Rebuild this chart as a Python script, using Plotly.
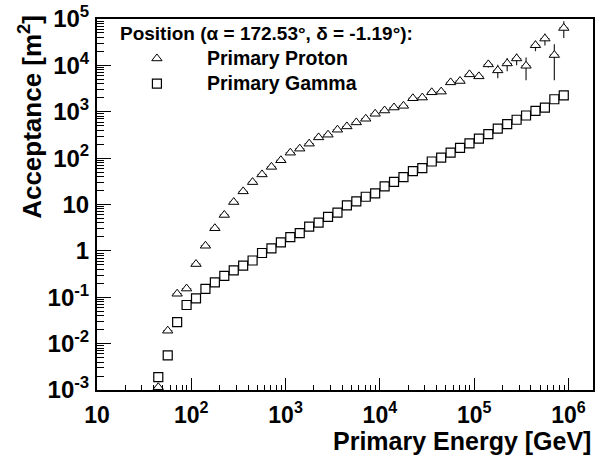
import numpy as np
import plotly.graph_objects as go

# bin centres in log10(E/GeV)
log_e = [1.65 + 0.1 * i for i in range(44)]
half_bin = 0.05

proton = [1.15e-3, 0.019, 0.119, 0.154, 0.52, 1.29, 3.08, 5.95, 11.3, 19.2,
          30.4, 44.5, 64.7, 90, 131, 160, 205, 280, 320, 410,
          483, 589, 706, 904, 1064, 1234, 1342, 1955, 2023, 2627,
          2715, 4300, 4600, 6400, 5800, 10500, 7800, 11000, 14100, 9800,
          27200, 37800, 16700, 64000]
proton_err = [2.5e-4, 0.002, 0.008, 0.01, 0.02, 0.04, 0.08, 0.12, 0.2, 0.3,
              0.4, 0.6, 0.8, 1.0, 1.5, 2, 3, 4, 5, 7,
              9, 12, 15, 20, 25, 30, 40, 60, 70, 90,
              110, 200, 250, 400, 450, 1500, 2500, 3500, 4000, 5000,
              7000, 11000, 11900, 25000]

gamma = [1.9e-3, 5.6e-3, 0.029, 0.068, 0.095, 0.152, 0.21, 0.29, 0.38, 0.48,
         0.62, 0.90, 1.13, 1.52, 1.97, 2.41, 3.34, 4.07, 5.40, 6.68,
         9.6, 11.7, 14.7, 17.4, 24.5, 30.8, 38.9, 52.3, 60.7, 84.5,
         103, 132, 166, 208, 263, 330, 431, 541, 672, 831,
         1048, 1233, 1858, 2265]
gamma_err = [2e-4, 4e-4, 1e-3, 2e-3, 3e-3, 4e-3, 5e-3, 6e-3, 8e-3, 0.01,
             0.012, 0.015, 0.02, 0.025, 0.03, 0.035, 0.045, 0.05, 0.06, 0.07,
             0.1, 0.12, 0.14, 0.16, 0.2, 0.25, 0.3, 0.4, 0.45, 0.6,
             0.7, 0.9, 1.1, 1.3, 1.6, 2, 2.5, 3, 3.5, 4.5,
             5.5, 6.5, 9, 11]

y_tickvals = [1e-3, 1e-2, 1e-1, 1, 10, 100, 1e3, 1e4, 1e5]
y_ticktext = ["10<sup>-3</sup>", "10<sup>-2</sup>", "10<sup>-1</sup>", "1", "10",
              "10<sup>2</sup>", "10<sup>3</sup>", "10<sup>4</sup>", "10<sup>5</sup>"]
x_tickvals = [10, 100, 1e3, 1e4, 1e5, 1e6]
x_ticktext = ["10", "10<sup>2</sup>", "10<sup>3</sup>", "10<sup>4</sup>",
              "10<sup>5</sup>", "10<sup>6</sup>"]

energy = [10 ** c for c in log_e]
ex_plus = [10 ** (c + half_bin) - 10 ** c for c in log_e]
ex_minus = [10 ** c - 10 ** (c - half_bin) for c in log_e]

FONT = "Liberation Sans, Arial, Helvetica, sans-serif"
LEG = "<span style='font-size:19.5px'>%s</span>"

fig = go.Figure()
fig.add_trace(go.Scatter(
    x=energy, y=proton, mode="markers", name=LEG % "Primary Proton",
    marker=dict(symbol="triangle-up", size=9, color="white",
                line=dict(color="black", width=1)),
    error_y=dict(type="data", array=proton_err, color="#222", thickness=1.2, width=0),
    error_x=dict(type="data", array=ex_plus, arrayminus=ex_minus, symmetric=False,
                 color="#555", thickness=1, width=0),
))
fig.add_trace(go.Scatter(
    x=energy, y=gamma, mode="markers", name=LEG % "Primary Gamma",
    marker=dict(symbol="square", size=9, color="white",
                line=dict(color="black", width=1.2)),
    error_y=dict(type="data", array=gamma_err, color="#222", thickness=1.2, width=0),
    error_x=dict(type="data", array=ex_plus, arrayminus=ex_minus, symmetric=False,
                 color="#555", thickness=1, width=0),
))

axis_common = dict(
    showline=True, linewidth=2, linecolor="black", mirror=True,
    showgrid=False, zeroline=False, ticks="inside", tickcolor="black",
)
fig.update_xaxes(type="log", range=[1, 6.26], tickvals=x_tickvals, ticktext=x_ticktext,
                 ticklen=12, tickwidth=1, ticklabelstandoff=3,
                 tickfont=dict(family=FONT, size=23, color="black", weight="bold"),
                 minor=dict(ticks="inside", ticklen=5, tickcolor="black", dtick="D1", showgrid=False),
                 **axis_common)
fig.update_yaxes(type="log", range=[-3, 5], tickvals=y_tickvals, ticktext=y_ticktext,
                 ticklen=14, tickwidth=1, ticklabelstandoff=1,
                 tickfont=dict(family=FONT, size=24, color="black", weight="bold"),
                 minor=dict(ticks="inside", ticklen=7, tickcolor="black", dtick="D1", showgrid=False),
                 **axis_common)

fig.update_layout(
    width=597, height=460,
    margin=dict(l=97, r=2, t=17, b=70),
    paper_bgcolor="white", plot_bgcolor="white",
    font=dict(family=FONT, color="black"),
    showlegend=True, hovermode=False,
    legend=dict(x=0.02, y=0.941, xanchor="left", yanchor="top",
                bgcolor="rgba(0,0,0,0)", borderwidth=0, itemwidth=90,
                font=dict(family=FONT, size=17, color="black", weight="bold")),
    annotations=[
        dict(text="Position (\u03b1 = 172.53\u00b0, \u03b4 = -1.19\u00b0):", xref="paper", yref="paper",
             x=0.042, y=0.96, xanchor="left", yanchor="middle", showarrow=False,
             font=dict(family=FONT, size=19, color="black", weight="bold")),
        dict(text="Primary Energy [GeV]", xref="paper", yref="paper",
             x=1.0, y=-0.138, xanchor="right", yanchor="middle", showarrow=False,
             font=dict(family=FONT, size=25, color="black", weight="bold")),
        dict(text="Acceptance [m<sup>2</sup>]", xref="paper", yref="paper", textangle=-90,
             x=-0.1345, y=0.737, xanchor="center", yanchor="middle", showarrow=False,
             font=dict(family=FONT, size=26, color="black", weight="bold")),
    ],
)

fig.write_html("out.html", config={"displayModeBar": False},
               post_script="document.body.style.margin='0';document.body.style.padding='0';")
